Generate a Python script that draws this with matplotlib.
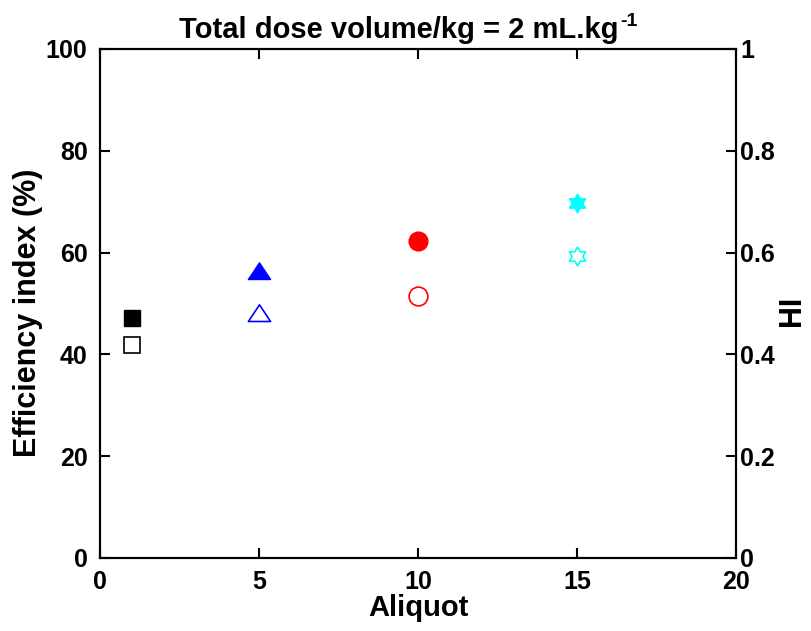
import numpy as np
import matplotlib.pyplot as plt
from matplotlib.path import Path


aliquot = [1, 5, 10, 15]
efficiency = [47.2, 56.3, 62.3, 69.7]
hi = [0.418, 0.482, 0.515, 0.593]
colors = ["black", "blue", "red", "cyan"]

plt.rcParams["font.family"] = ["Liberation Sans", "DejaVu Sans"]
plt.rcParams["font.weight"] = "bold"


def _hexagram():
    ang_out = np.deg2rad(90 + 60 * np.arange(6))
    ang_in = ang_out + np.deg2rad(30)
    r_in = 1 / np.sqrt(3)
    pts = []
    for a, b in zip(ang_out, ang_in):
        pts.append((np.cos(a), np.sin(a)))
        pts.append((r_in * np.cos(b), r_in * np.sin(b)))
    pts.append(pts[0])
    codes = [Path.MOVETO] + [Path.LINETO] * (len(pts) - 2) + [Path.CLOSEPOLY]
    return Path(pts, codes)


triangle = Path([(-1, -0.72), (1, -0.72), (0, 0.78), (-1, -0.72)],
                [Path.MOVETO, Path.LINETO, Path.LINETO, Path.CLOSEPOLY])
markers = ["s", triangle, "o", _hexagram()]
sizes = [12, 16, 13.5, 13.5]

fig = plt.figure(figsize=(8.12, 6.31), dpi=100)
ax = fig.add_axes([0.1232, 0.1157, 0.7833, 0.8067])
ax2 = ax.twinx()

for x, e, h, c, m, s in zip(aliquot, efficiency, hi, colors, markers, sizes):
    ax.plot([x], [e], linestyle="none", marker=m, markersize=s,
            color=c, markeredgecolor=c, markerfacecolor=c)
    ax2.plot([x], [h], linestyle="none", marker=m, markersize=s,
             color=c, markeredgecolor=c, markerfacecolor="none",
             markeredgewidth=1.2)

ax.set_xlim(0, 20)
ax.set_ylim(0, 100)
ax2.set_ylim(0, 1)
ax.set_xticks([0, 5, 10, 15, 20])
ax.set_yticks([0, 20, 40, 60, 80, 100])
ax2.set_yticks([0, 0.2, 0.4, 0.6, 0.8, 1])
ax2.set_yticklabels(["0", "0.2", "0.4", "0.6", "0.8", "1"])

ax.tick_params(axis="both", direction="in", length=7, width=1.5,
               labelsize=18, top=True, right=False)
ax.tick_params(axis="x", pad=9)
ax.tick_params(axis="y", pad=9)
ax2.tick_params(axis="y", direction="in", length=7, width=1.5,
                labelsize=18, pad=3)
for a in (ax, ax2):
    for sp in a.spines.values():
        sp.set_linewidth(1.5)

ax.set_xlabel("Aliquot", fontsize=21, fontweight="bold", labelpad=0)
ax.set_ylabel("Efficiency index (%)", fontsize=22, fontweight="bold")
ax.yaxis.set_label_coords(-0.089, 0.481)
ax2.set_ylabel("HI", fontsize=22, fontweight="bold")
ax2.yaxis.set_label_coords(1.065, 0.485)

# title with a hyphen superscript, drawn as two texts
title = fig.text(0.5, 0.94, "Total dose volume/kg = 2 mL.kg", fontsize=21,
                 fontweight="bold", ha="center", va="baseline")
shift = 14 / fig.dpi / fig.get_figwidth()
title.set_x(0.5 - shift / 2)
fig.canvas.draw()
bb = title.get_window_extent()
fig.text(bb.x1 / fig.bbox.width + 0.002, 0.94 + 12 / 631, "-1", fontsize=14,
         fontweight="bold", ha="left", va="baseline")

fig.savefig("out.png", dpi=100)
